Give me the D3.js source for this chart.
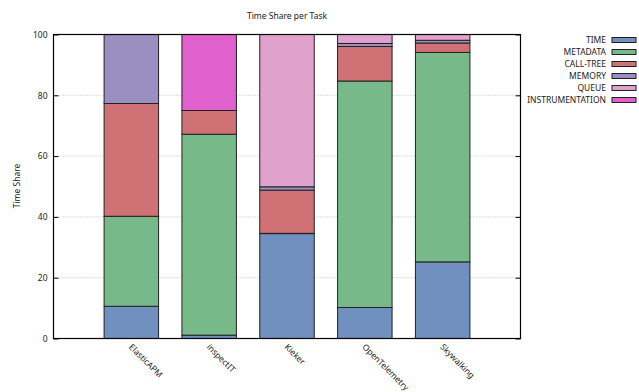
<!DOCTYPE html>
<html><head><meta charset="utf-8">
<script src="https://cdn.jsdelivr.net/npm/d3@7"></script>
<style>body{margin:0;background:#fff}svg{display:block}text{font-family:"Noto Sans",sans-serif;fill:#222}</style>
</head><body><svg id="c" width="639" height="392"></svg>
<script>
const categories = ["ElasticAPM", "inspectIT", "Kieker", "OpenTelemetry", "Skywalking"];
const seriesNames = ["TIME", "METADATA", "CALL-TREE", "MEMORY", "QUEUE", "INSTRUMENTATION"];
const seriesColors = ["#7090c0", "#77b989", "#d07275", "#9b8ec0", "#e0a1cd", "#e060cd"];
const TIME = [10.6, 1.1, 34.5, 10.2, 25.2];
const METADATA = [29.6, 66.1, 0.1, 74.5, 68.9];
const CALLTREE = [37.1, 7.8, 14.2, 11.35, 3.1];
const MEMORY = [22.7, 0, 1.1, 1.0, 0.9];
const QUEUE = [0, 0, 50.1, 2.95, 1.9];
const INSTRUMENTATION = [0, 25.0, 0, 0, 0];
const yTicks = [0, 20, 40, 60, 80, 100];

const seriesValues = [TIME, METADATA, CALLTREE, MEMORY, QUEUE, INSTRUMENTATION];
const FS = "8.5px";
const svg = d3.select("#c");
const L = 53.5, R = 520.5, T = 34.5, B = 338.5;
const x = d3.scaleLinear().domain([-1, categories.length]).range([L, R]);
const y = d3.scaleLinear().domain([0, 100]).range([B, T]);
const bw = 0.7;

// title
svg.append("text").attr("x", (L + R) / 2).attr("y", 19).attr("text-anchor", "middle")
  .style("font-size", FS).text("Time Share per Task");

// grid
svg.append("g").selectAll("line").data(yTicks.filter(d => d > 0 && d < 100)).join("line")
  .attr("x1", L).attr("x2", R).attr("y1", d => y(d)).attr("y2", d => y(d))
  .attr("stroke", "#bbb").attr("stroke-width", 1).attr("stroke-dasharray", "1,2");

// stacked bars
const rows = categories.map((c, i) => {
  const o = { cat: c, i };
  seriesNames.forEach((s, k) => o[s] = seriesValues[k][i]);
  return o;
});
const stack = d3.stack().keys(seriesNames)(rows);
stack.forEach((layer, k) => {
  svg.append("g").selectAll("rect").data(layer.filter(d => d[1] - d[0] > 0)).join("rect")
    .attr("x", d => x(d.data.i - bw / 2))
    .attr("width", d => x(d.data.i + bw / 2) - x(d.data.i - bw / 2))
    .attr("y", d => y(d[1]))
    .attr("height", d => y(d[0]) - y(d[1]))
    .attr("fill", seriesColors[k])
    .attr("stroke", "#222").attr("stroke-width", 1);
});

// frame
svg.append("rect").attr("x", L).attr("y", T).attr("width", R - L).attr("height", B - T)
  .attr("fill", "none").attr("stroke", "#000").attr("stroke-width", 1.2);

// y axis
const yAxis = d3.axisLeft(y).tickValues(yTicks).tickSize(-5).tickPadding(6).tickFormat(d3.format("d"));
const ga = svg.append("g").attr("transform", `translate(${L},0)`).call(yAxis);
ga.select(".domain").remove();
ga.selectAll("line").attr("stroke", "#000");
ga.selectAll("text").style("font-size", FS).style("font-family", "Noto Sans").attr("fill", "#222");
const gr = svg.append("g").attr("transform", `translate(${R},0)`).call(d3.axisRight(y).tickValues(yTicks).tickSize(-5).tickFormat(""));
gr.select(".domain").remove();
gr.selectAll("line").attr("stroke", "#000");

// x labels
const gx = svg.append("g").attr("transform", `translate(0,${B})`)
  .call(d3.axisBottom(x).tickValues(d3.range(categories.length)).tickSize(0).tickFormat(i => categories[i]));
gx.select(".domain").remove();
gx.selectAll("text").attr("text-anchor", "start").attr("dy", 0).attr("y", 0)
  .attr("transform", "translate(-3.5,9) rotate(45)")
  .style("font-size", FS).style("font-family", "Noto Sans").attr("fill", "#222");

// y label
svg.append("text").attr("transform", "translate(20,186) rotate(-90)").attr("text-anchor", "middle")
  .style("font-size", FS).text("Time Share");

// legend
const lg = svg.append("g").selectAll("g").data(seriesNames).join("g")
  .attr("transform", (d, i) => `translate(0,${40 + i * 12})`);
lg.append("text").attr("x", 606).attr("y", 3).attr("text-anchor", "end").style("font-size", FS).text(d => d);
lg.append("rect").attr("x", 612).attr("y", -2.5).attr("width", 24).attr("height", 5)
  .attr("fill", (d, i) => seriesColors[i]).attr("stroke", "#222").attr("stroke-width", 1);
</script></body></html>
